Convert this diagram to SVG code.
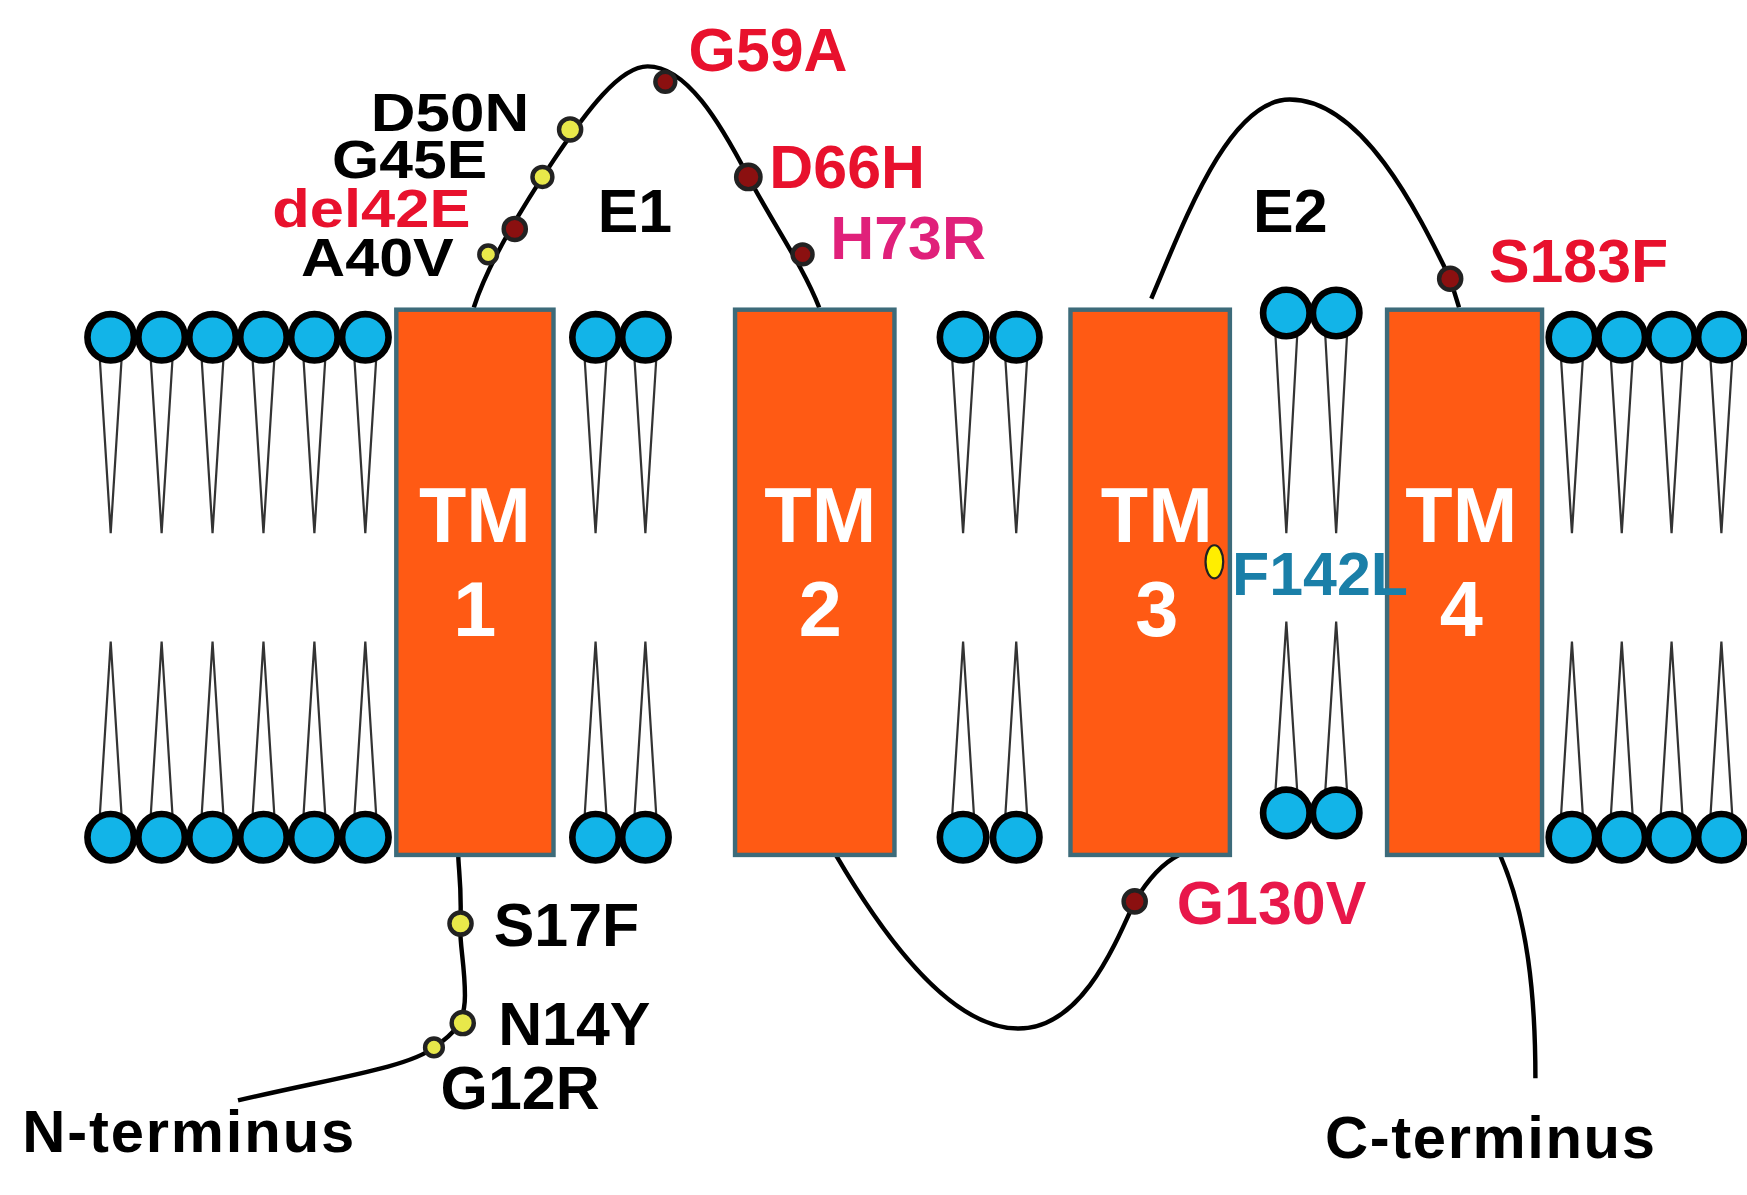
<svg xmlns="http://www.w3.org/2000/svg" width="1747" height="1195" viewBox="0 0 1747 1195">
<style>
.h{fill:#12b4e8;stroke:#000;stroke-width:6}
.t{fill:none;stroke:#333;stroke-width:2}
.tm{fill:#ff5a14;stroke:#3d6b7a;stroke-width:4}
.tt{font-family:"Liberation Sans",Arial,sans-serif;font-weight:bold;fill:#fff;font-size:70px;text-anchor:middle}
.l{font-family:"Liberation Sans",Arial,sans-serif;font-weight:bold;font-size:55px}
.s{font-size:48px}
.y{fill:#e8e84a;stroke:#222;stroke-width:4}
.r{fill:#8b1010;stroke:#222;stroke-width:4}
.p{fill:none;stroke:#000;stroke-width:4}
</style>
<rect width="1747" height="1195" fill="#fff"/>
<g transform="scale(1.107,1.106)">
<g id="membrane">
<g id="tails">
<path class="t" d="M90,322L100,482L110,322 M136,322L146,482L156,322 M182,322L192,482L202,322 M228,322L238,482L248,322 M274,322L284,482L294,322 M320,322L330,482L340,322 M528,322L538,482L548,322 M573,322L583,482L593,322 M860,322L870,482L880,322 M908,322L918,482L928,322 M1152,300L1162,482L1172,300 M1197,300L1207,482L1217,300 M1410,322L1420,482L1430,322 M1455,322L1465,482L1475,322 M1500,322L1510,482L1520,322 M1545,322L1555,482L1565,322"/>
<path class="t" d="M90,740L100,580L110,740 M136,740L146,580L156,740 M182,740L192,580L202,740 M228,740L238,580L248,740 M274,740L284,580L294,740 M320,740L330,580L340,740 M528,740L538,580L548,740 M573,740L583,580L593,740 M860,740L870,580L880,740 M908,740L918,580L928,740 M1152,718L1162,562L1172,718 M1197,718L1207,562L1217,718 M1410,740L1420,580L1430,740 M1455,740L1465,580L1475,740 M1500,740L1510,580L1520,740 M1545,740L1555,580L1565,740"/>
</g>
<g id="heads">
<circle class="h" cx="100" cy="305" r="21"/><circle class="h" cx="146" cy="305" r="21"/><circle class="h" cx="192" cy="305" r="21"/><circle class="h" cx="238" cy="305" r="21"/><circle class="h" cx="284" cy="305" r="21"/><circle class="h" cx="330" cy="305" r="21"/>
<circle class="h" cx="538" cy="305" r="21"/><circle class="h" cx="583" cy="305" r="21"/>
<circle class="h" cx="870" cy="305" r="21"/><circle class="h" cx="918" cy="305" r="21"/>
<circle class="h" cx="1162" cy="283" r="21"/><circle class="h" cx="1207" cy="283" r="21"/>
<circle class="h" cx="1420" cy="305" r="21"/><circle class="h" cx="1465" cy="305" r="21"/><circle class="h" cx="1510" cy="305" r="21"/><circle class="h" cx="1555" cy="305" r="21"/>
<circle class="h" cx="100" cy="757" r="21"/><circle class="h" cx="146" cy="757" r="21"/><circle class="h" cx="192" cy="757" r="21"/><circle class="h" cx="238" cy="757" r="21"/><circle class="h" cx="284" cy="757" r="21"/><circle class="h" cx="330" cy="757" r="21"/>
<circle class="h" cx="538" cy="757" r="21"/><circle class="h" cx="583" cy="757" r="21"/>
<circle class="h" cx="870" cy="757" r="21"/><circle class="h" cx="918" cy="757" r="21"/>
<circle class="h" cx="1162" cy="735" r="21"/><circle class="h" cx="1207" cy="735" r="21"/>
<circle class="h" cx="1420" cy="757" r="21"/><circle class="h" cx="1465" cy="757" r="21"/><circle class="h" cx="1510" cy="757" r="21"/><circle class="h" cx="1555" cy="757" r="21"/>
</g>
</g>
<g id="connectors">
<path class="p" d="M215,995 C300,975 370,965 392,947 C410,935 420,925 420,900 C420,870 414,850 416,830 C417,800 414,785 414,773"/>
<path class="p" d="M428,278 C440,240 470,190 500,145 C530,100 560,60 585,60 C620,60 650,110 676,160 C700,205 725,240 740,278"/>
<path class="p" d="M755,773 C800,850 860,930 920,930 C975,930 1005,860 1025,815 C1040,790 1055,778 1065,773"/>
<path class="p" d="M1040,270 C1070,200 1110,90 1165,90 C1230,90 1280,190 1310,252 L1318,278"/>
<path class="p" d="M1355,773 C1380,830 1387,900 1387,975"/>
</g>
<g id="tm1"><rect class="tm" x="358" y="280" width="142" height="493"/><text class="tt" x="429" y="490">TM</text><text class="tt" x="429" y="575">1</text></g>
<g id="tm2"><rect class="tm" x="664" y="280" width="144" height="493"/><text class="tt" x="741" y="490">TM</text><text class="tt" x="741" y="575">2</text></g>
<g id="tm3"><rect class="tm" x="967" y="280" width="144" height="493"/><text class="tt" x="1045" y="490">TM</text><text class="tt" x="1045" y="575">3</text></g>
<g id="tm4"><rect class="tm" x="1253" y="280" width="140" height="493"/><text class="tt" x="1320" y="490">TM</text><text class="tt" x="1320" y="575">4</text></g>
<g id="mutations">
<circle class="y" cx="441" cy="230" r="8"/>
<circle class="r" cx="465" cy="207" r="10"/>
<circle class="y" cx="490" cy="160" r="9"/>
<circle class="y" cx="515" cy="117" r="10"/>
<circle class="r" cx="601" cy="74" r="9"/>
<circle class="r" cx="676" cy="160" r="11"/>
<circle class="r" cx="725" cy="230" r="9"/>
<circle class="r" cx="1310" cy="252" r="10"/>
<circle class="r" cx="1025" cy="815" r="10"/>
<circle class="y" cx="416" cy="835" r="10"/>
<circle class="y" cx="418" cy="925" r="10"/>
<circle class="y" cx="392" cy="947" r="8"/>
<ellipse fill="#ffee00" stroke="#222" stroke-width="2" cx="1097" cy="508" rx="8" ry="15"/>
</g>
<g id="labels">
<text class="l s" x="335" y="118" fill="#000" textLength="143" lengthAdjust="spacingAndGlyphs">D50N</text>
<text class="l" x="622" y="64" fill="#e8112d">G59A</text>
<text class="l s" x="300" y="161" fill="#000" textLength="140" lengthAdjust="spacingAndGlyphs">G45E</text>
<text class="l s" x="246" y="205" fill="#e8112d" textLength="179" lengthAdjust="spacingAndGlyphs">del42E</text>
<text class="l s" x="272" y="250" fill="#000" textLength="138" lengthAdjust="spacingAndGlyphs">A40V</text>
<text class="l" x="540" y="210" fill="#000" font-size="64">E1</text>
<text class="l" x="695" y="170" fill="#e8112d">D66H</text>
<text class="l" x="750" y="234" fill="#e0207a">H73R</text>
<text class="l" x="1132" y="210" fill="#000" font-size="64">E2</text>
<text class="l" x="1345" y="255" fill="#e8112d">S183F</text>
<text class="l" x="1113" y="538" fill="#1a7fa8" font-size="48">F142L</text>
<text class="l" x="1063" y="835" fill="#e8174a">G130V</text>
<text class="l" x="446" y="855" fill="#000">S17F</text>
<text class="l" x="450" y="945" fill="#000">N14Y</text>
<text class="l" x="398" y="1003" fill="#000">G12R</text>
<text x="20" y="1042" font-family="'Liberation Sans',Arial,sans-serif" font-weight="bold" font-size="54" fill="#000" textLength="300">N-terminus</text>
<text x="1197" y="1047" font-family="'Liberation Sans',Arial,sans-serif" font-weight="bold" font-size="54" fill="#000" textLength="298">C-terminus</text>
</g>
</g>
</svg>
